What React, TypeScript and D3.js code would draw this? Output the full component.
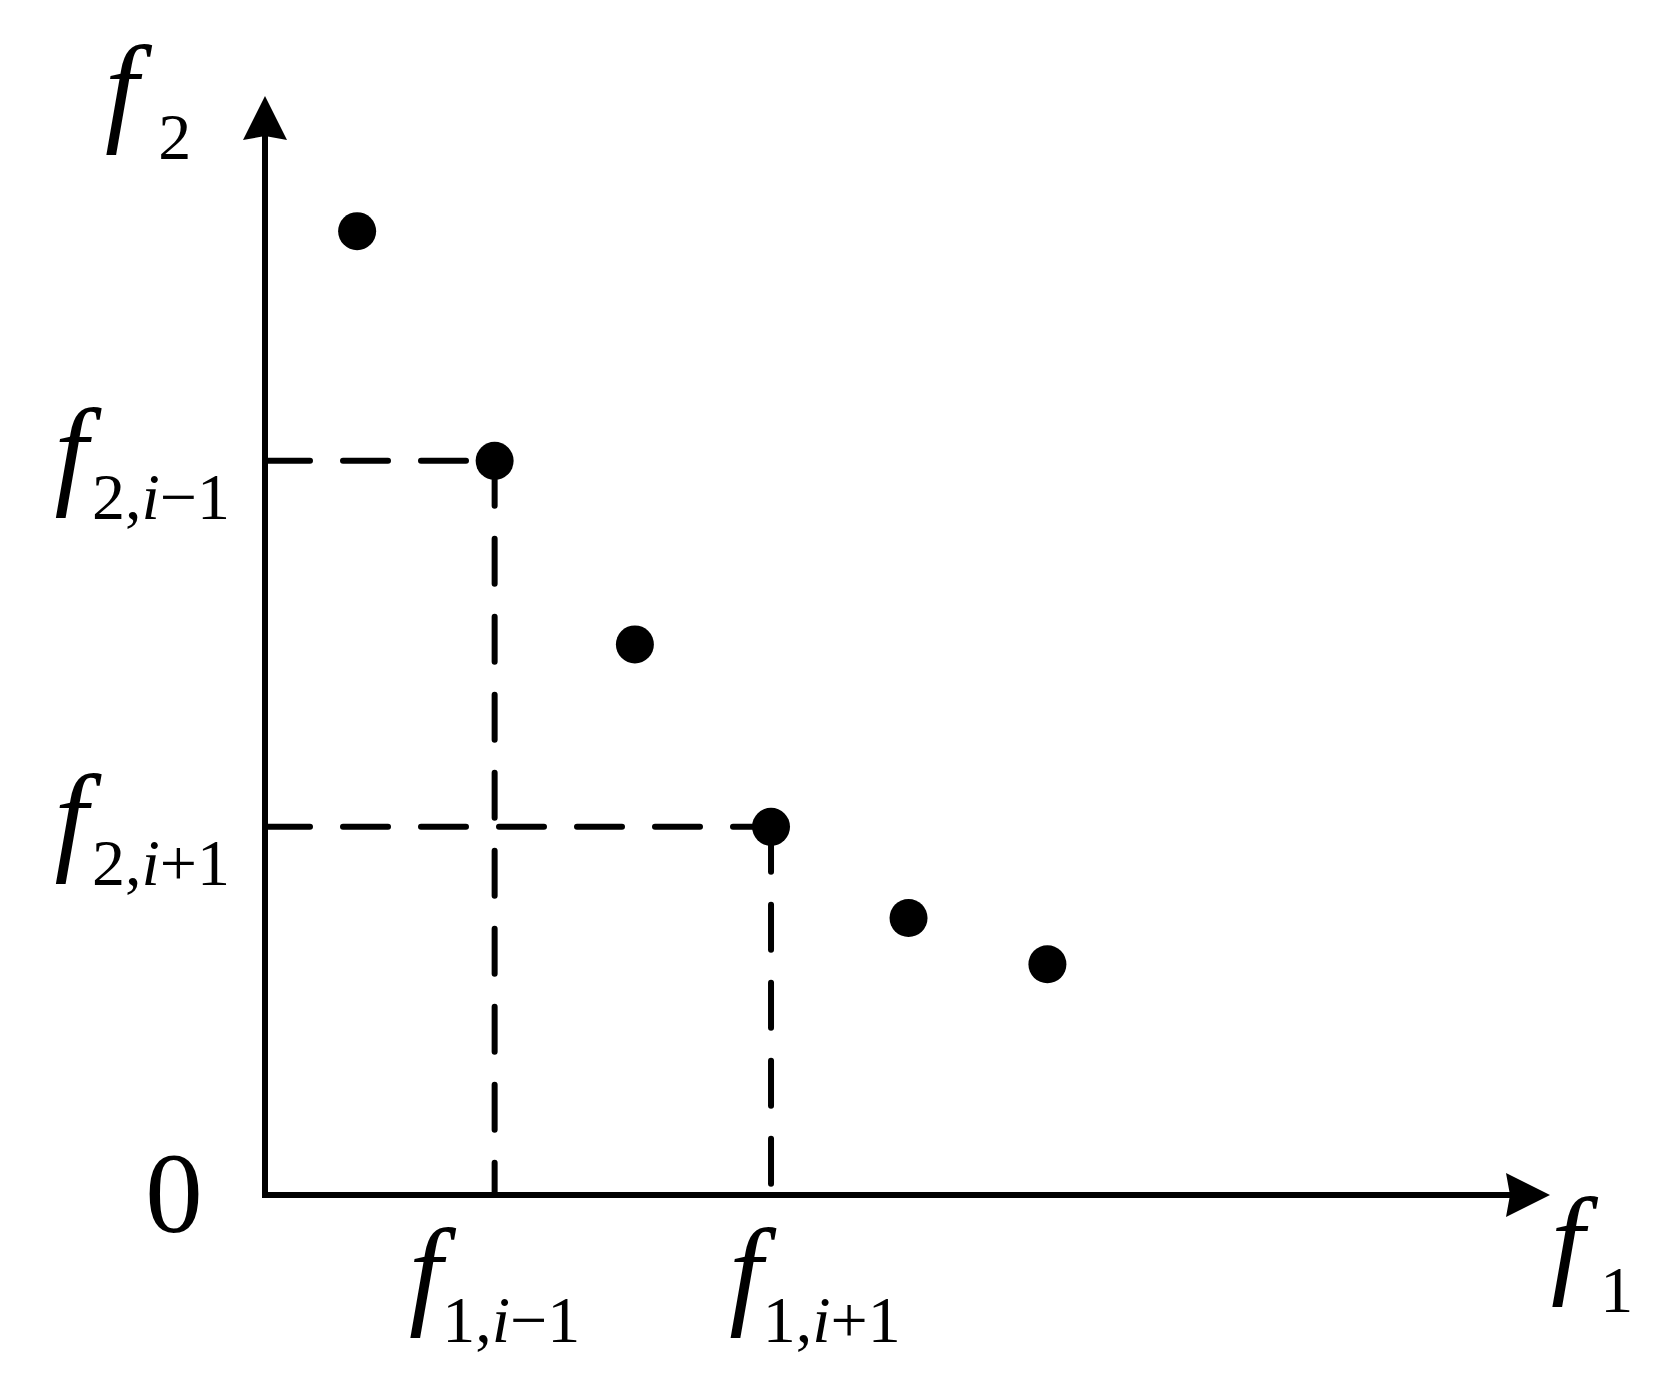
import React from "react";
import { scaleLinear } from "d3";

// Pareto front sample, f1 and f2 values
const f1Values = [0.67, 1.67, 2.69, 3.68, 4.68, 5.69];
const f2Values = [8.77, 6.68, 5.01, 3.35, 2.52, 2.1];
// the two neighbours of point i that get dashed guides
const markedIndices = [1, 3];
const xTickSubs = ["1,i\u22121", "1,i+1"];
const yTickSubs = ["2,i\u22121", "2,i+1"];
const originLabel = "0";
const xAxisSub = "1";
const yAxisSub = "2";

const W = 1678;
const H = 1384;
const FONT = "'Liberation Serif', 'Times New Roman', serif";
const F_SIZE = 120;
const SUB_SIZE = 66;
// the second bottom label sits a bit right of its guide in the original
const X_LABEL_NUDGE = [0, 44];

const x = scaleLinear().domain([0, 9.345]).range([265, 1550]);
const y = scaleLinear().domain([0, 10]).range([1195, 96]);

// subscript like "1,i-1": the "i" is italic, the rest roman
const Sub = ({ text, dy, dx = 0 }: { text: string; dy: number; dx?: number }) => {
  const [pre, post] = text.includes("i") ? text.split("i") : [text, null];
  return (
    <>
      <tspan dx={dx} dy={dy} fontSize={SUB_SIZE} fontStyle="normal">
        {pre}
      </tspan>
      {post !== null && (
        <>
          <tspan fontSize={SUB_SIZE} fontStyle="italic">i</tspan>
          <tspan fontSize={SUB_SIZE} fontStyle="normal">{post}</tspan>
        </>
      )}
    </>
  );
};

const App = () => {
  const x0 = x(0);
  const y0 = y(0);
  const xEnd = x(9.345);
  const yEnd = y(10);
  const head = 44;
  const half = 22;

  return (
    <svg
      width={W}
      height={H}
      style={{ position: "absolute", left: 0, top: 0, background: "#fff" }}
      fontFamily={FONT}
    >
      {/* dashed guides */}
      <g stroke="#000" strokeWidth={6} strokeDasharray="45 33" strokeLinecap="round" fill="none">
        {markedIndices.map((i) => (
          <g key={i}>
            <line x1={x0} y1={y(f2Values[i])} x2={x(f1Values[i])} y2={y(f2Values[i])} />
            <line x1={x(f1Values[i])} y1={y(f2Values[i])} x2={x(f1Values[i])} y2={y0} />
          </g>
        ))}
      </g>

      {/* axes */}
      <path
        d={`M${x0},${yEnd + head - 4}V${y0}H${xEnd - head + 4}`}
        stroke="#000"
        strokeWidth={6}
        fill="none"
        strokeLinecap="butt"
        strokeLinejoin="miter"
      />
      <path
        d={`M${x0},${yEnd}L${x0 + half},${yEnd + head}L${x0},${yEnd + head - 4}L${x0 - half},${yEnd + head}Z`}
        fill="#000"
      />
      <path
        d={`M${xEnd},${y0}L${xEnd - head},${y0 - half}L${xEnd - head + 4},${y0}L${xEnd - head},${y0 + half}Z`}
        fill="#000"
      />

      {/* points */}
      {f1Values.map((v, i) => (
        <circle key={i} cx={x(v)} cy={y(f2Values[i])} r={19} fill="#000" />
      ))}

      {/* tick labels */}
      {markedIndices.map((i, k) => (
        <text
          key={"xt" + i}
          x={x(f1Values[i]) + X_LABEL_NUDGE[k]}
          y={y0 + 117}
          textAnchor="middle"
          fontSize={F_SIZE}
          fontStyle="italic"
        >
          f<Sub text={xTickSubs[k]} dy={30} />
        </text>
      ))}
      {markedIndices.map((i, k) => (
        <text
          key={"yt" + i}
          x={x0 - 35}
          y={y(f2Values[i]) + 31}
          textAnchor="end"
          fontSize={F_SIZE}
          fontStyle="italic"
        >
          f<Sub text={yTickSubs[k]} dy={27} dx={4} />
        </text>
      ))}
      <text x={x0 - 91} y={y0 + 37} textAnchor="middle" fontSize={115}>
        {originLabel}
      </text>

      {/* axis titles */}
      <text x={x0 - 160} y={yEnd + 33} fontSize={F_SIZE} fontStyle="italic">
        f<Sub text={yAxisSub} dy={30} dx={20} />
      </text>
      <text x={xEnd + 1} y={y0 + 86} fontSize={F_SIZE} fontStyle="italic">
        f<Sub text={xAxisSub} dy={31} dx={16} />
      </text>
    </svg>
  );
};

export default App;
